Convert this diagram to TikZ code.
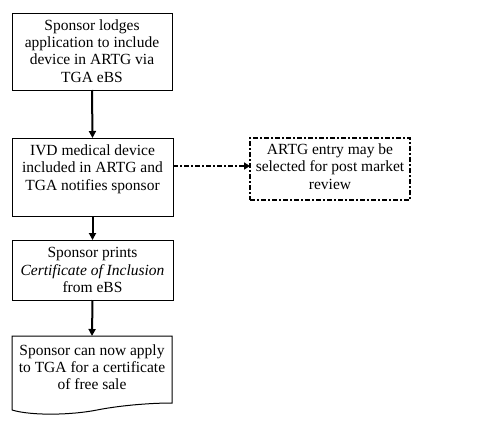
\documentclass[tikz,border=0pt]{standalone}
\usepackage{fontspec}
\setmainfont{Liberation Serif}
\usetikzlibrary{arrows.meta,calc}
\tikzset{
  box/.style={draw=black, line width=1pt, rectangle, inner sep=0pt, outer sep=0pt},
  ghost/.style={rectangle, inner sep=0pt, outer sep=0pt},
  dashbox/.style={draw=black, line width=1.6pt, rectangle, inner sep=0pt, outer sep=0pt,
     dash pattern=on 5pt off 2pt on 2pt off 2pt},
  txt/.style={align=center, inner sep=0pt, font=\fontsize{15.5}{17.3}\selectfont},
  flow/.style={line width=2pt, -{Triangle[width=7pt,length=7pt]}},
  dflow/.style={line width=1.6pt, dash pattern=on 5pt off 2pt on 2pt off 2pt,
     -{Triangle[width=7pt,length=6pt]}},
}
\begin{document}
\begin{tikzpicture}[x=1pt,y=-1pt]
\useasboundingbox (0,0) rectangle (500,426);
% boxes
\node[box, minimum width=160pt, minimum height=77pt] (b1) at (92,51.5) {};
\node[box, minimum width=161pt, minimum height=78pt] (b2) at (92.5,177) {};
\node[dashbox, minimum width=160pt, minimum height=62pt] (b3) at (330,169) {};
\node[box, minimum width=161pt, minimum height=60pt] (b4) at (92.5,270) {};
\node[ghost, minimum width=160pt, minimum height=74pt] (b5) at (92,373) {};
\draw[line width=1pt] (b5.south west) -- (b5.north west) -- (b5.north east) -- ([yshift=7pt]b5.south east)
  .. controls ([xshift=-25pt,yshift=7pt]b5.south east) and ([xshift=-55pt,yshift=4pt]b5.south east)
  .. ([xshift=-75pt,yshift=0pt]b5.south east)
  .. controls ([xshift=-100pt,yshift=-5pt]b5.south east) and ([xshift=-140pt,yshift=-6pt]b5.south east)
  .. (b5.south west);
% texts
\node[txt] (t1) at (92,51) {Sponsor lodges\\application to include\\device in ARTG via\\TGA eBS};
\node[txt] (t2) at (92.5,169) {IVD medical device\\included in ARTG and\\TGA notifies sponsor};
\node[txt] (t3) at (330,166.5) {ARTG entry may be\\selected for post market\\review};
\node[txt] (t4) at (92.5,270) {Sponsor prints\\\textit{Certificate of Inclusion}\\from eBS};
\node[txt] (t5) at (92,367) {Sponsor can now apply\\to TGA for a certificate\\of free sale};
% connectors
\draw[flow] (b1.south) -- (b2.north);
\draw[flow] (b2.south) -- (b4.north);
\draw[flow] (b4.south) -- (b5.north);
\draw[dflow] ([yshift=11pt]b2.east) -- ([yshift=11pt]b2.east -| b3.west);
\end{tikzpicture}
\end{document}
